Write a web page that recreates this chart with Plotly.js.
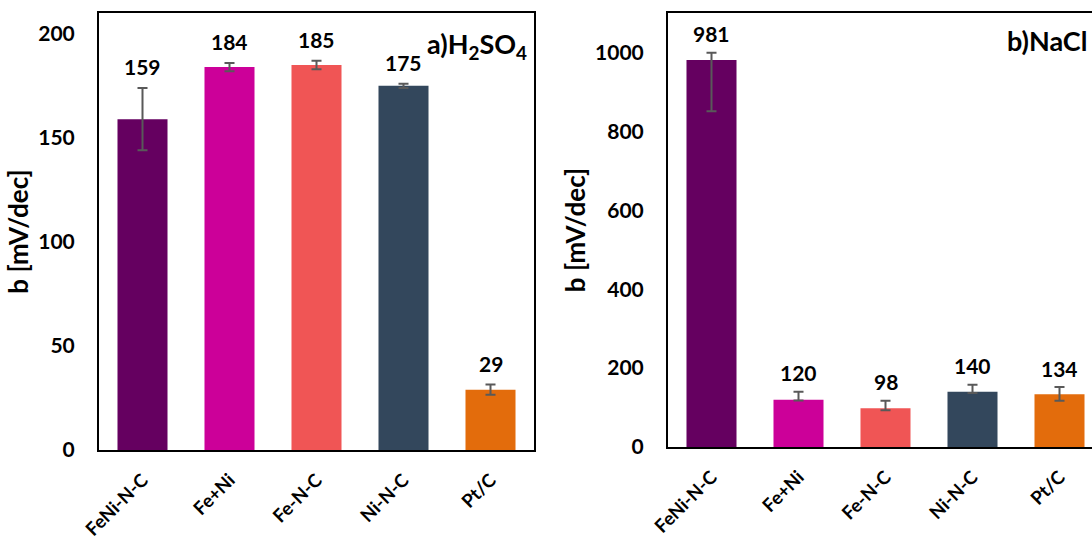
<!DOCTYPE html>
<html>
<head>
<meta charset="utf-8">
<script src="https://cdn.plot.ly/plotly-3.0.1.min.js"></script>
<style>html,body{margin:0;padding:0;background:#fff;}#chart{width:1092px;height:540px;}</style>
</head>
<body>
<div id="chart"></div>
<script>
// ---- data ----
const categories = ['FeNi-N-C', 'Fe+Ni', 'Fe-N-C', 'Ni-N-C', 'Pt/C'];
const h2so4Values = [159, 184, 185, 175, 29];
const h2so4ErrPlus = [15, 2, 2, 1, 2.5];
const h2so4ErrMinus = [15, 2, 2, 1, 2.5];
const naclValues = [981, 120, 98, 140, 134];
const naclErrPlus = [18, 20, 19, 18, 18];
const naclErrMinus = [130, 2, 5, 3, 17];
const h2so4Ticks = [0, 50, 100, 150, 200];
const naclTicks = [0, 200, 400, 600, 800, 1000];
const panelLabels = ['a)H<sub>2</sub>SO<sub>4</sub>', 'b)NaCl'];
const yTitle = 'b [mV/dec]';

// ---- style ----
const barColors = ['#650060', '#CC0099', '#F05555', '#33475C', '#E36C0C'];
const FONT = 'Lato, "Open Sans", sans-serif';
const W = 1092, H = 540;
const errStyle = {color: '#595959', thickness: 2, width: 5};

const trace1 = {
  type: 'bar', x: categories, y: h2so4Values, xaxis: 'x', yaxis: 'y',
  marker: {color: barColors},
  error_y: Object.assign({type: 'data', symmetric: false, array: h2so4ErrPlus, arrayminus: h2so4ErrMinus}, errStyle),
  hoverinfo: 'x+y'
};
const trace2 = {
  type: 'bar', x: categories, y: naclValues, xaxis: 'x2', yaxis: 'y2',
  marker: {color: barColors},
  error_y: Object.assign({type: 'data', symmetric: false, array: naclErrPlus, arrayminus: naclErrMinus}, errStyle),
  hoverinfo: 'x+y'
};

const yTickFont = {family: FONT, size: 21, weight: 700, color: '#000'};
const xTickFont = {family: FONT, size: 18.5, weight: 700, color: '#000'};
const titleFont = {family: FONT, size: 26, weight: 700, color: '#000'};
const valueFont = {family: FONT, size: 21, weight: 700, color: '#000'};

function xAxis(domain, range, anchor) {
  return {
    domain: domain, range: range, anchor: anchor, type: 'category',
    showline: true, linecolor: '#000', linewidth: 2, mirror: true,
    showgrid: false, zeroline: false, ticks: '',
    tickangle: -45, tickfont: xTickFont, ticklabelstandoff: 10,
    automargin: false, fixedrange: true
  };
}
function yAxis(domain, range, ticks, anchor, mirror) {
  return {
    domain: domain, range: range, anchor: anchor,
    tickmode: 'array', tickvals: ticks, ticktext: ticks.map(String),
    showline: true, linecolor: '#000', linewidth: 2, mirror: mirror,
    showgrid: false, zeroline: false, ticks: '',
    tickfont: yTickFont, ticklabelstandoff: 18,
    title: {text: yTitle, font: titleFont, standoff: 2},
    automargin: false, fixedrange: true
  };
}

const annotations = [];
categories.forEach((c, i) => {
  annotations.push({xref: 'x', yref: 'y', x: c, y: h2so4Values[i] + h2so4ErrPlus[i],
    text: String(h2so4Values[i]), showarrow: false, yanchor: 'middle', yshift: 21,
    font: valueFont});
  annotations.push({xref: 'x2', yref: 'y2', x: c, y: naclValues[i] + naclErrPlus[i],
    text: String(naclValues[i]), showarrow: false, yanchor: 'middle', yshift: 19,
    font: valueFont});
});
annotations.push({xref: 'paper', yref: 'paper', x: 529 / W, y: (H - 45) / H, xanchor: 'right', yanchor: 'middle',
  text: panelLabels[0], showarrow: false, font: {family: FONT, size: 27, weight: 700, color: '#000'}});
annotations.push({xref: 'paper', yref: 'paper', x: 1005 / W, y: (H - 40) / H, xanchor: 'left', yanchor: 'middle',
  text: panelLabels[1], showarrow: false, font: {family: FONT, size: 27, weight: 700, color: '#000'}});

const catW = 87;
const layout = {
  width: W, height: H,
  margin: {l: 0, r: 0, t: 0, b: 0, pad: 0},
  paper_bgcolor: '#fff', plot_bgcolor: '#fff',
  showlegend: false, bargap: 0.425,
  xaxis: xAxis([99 / W, 534 / W], [-0.5, 4.5], 'y'),
  yaxis: yAxis([(H - 450) / H, (H - 13) / H], [0, 210], h2so4Ticks, 'x', true),
  xaxis2: xAxis([668 / W, 1], [-0.5, -0.5 + (W - 668) / catW], 'y2'),
  yaxis2: yAxis([(H - 447) / H, (H - 13) / H], [0, 1100], naclTicks, 'x2', false),
  annotations: annotations
};

Plotly.newPlot('chart', [trace1, trace2], layout, {displayModeBar: false, staticPlot: true});
</script>
</body>
</html>
